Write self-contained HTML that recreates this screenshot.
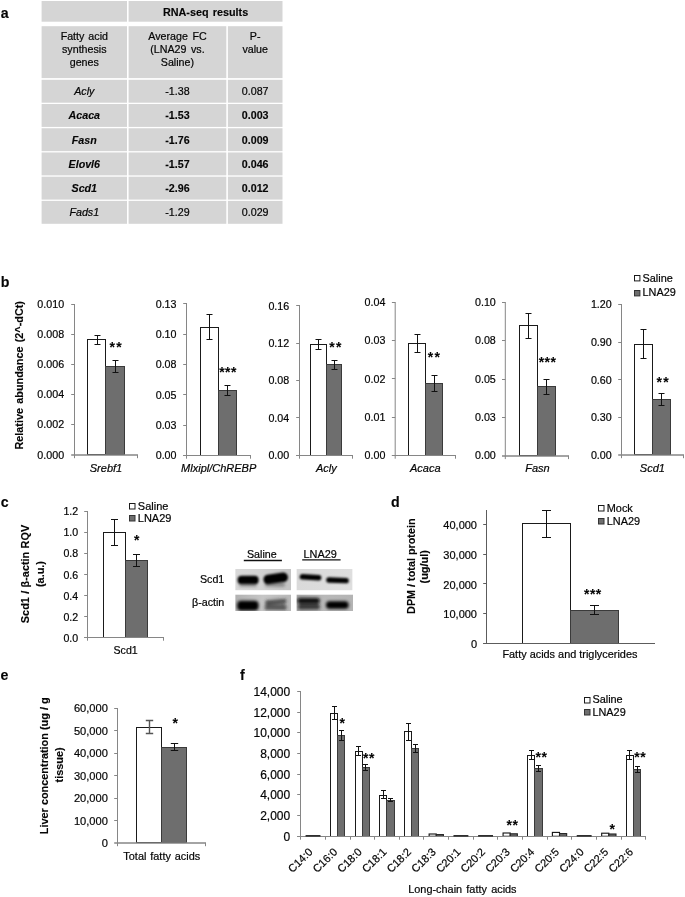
<!DOCTYPE html>
<html lang="en">
<head>
<meta charset="utf-8">
<title>Figure</title>
<style>html,body{margin:0;padding:0;background:#fff;overflow:hidden}svg{display:block}</style>
</head>
<body>
<svg width="685" height="897" viewBox="0 0 685 897" font-family="'Liberation Sans', Arial, Helvetica, sans-serif" fill="#050505">
<defs><filter id="b1" x="-20%" y="-60%" width="140%" height="220%"><feGaussianBlur stdDeviation="1.1"/></filter><filter id="b2" x="-20%" y="-60%" width="140%" height="220%"><feGaussianBlur stdDeviation="1.7"/></filter></defs>
<rect x="0" y="0" width="685" height="897" fill="#fff"/>
<text x="0.8" y="17.6" font-size="14.2" font-weight="bold" stroke="#050505" stroke-width="0.12">a</text>
<text x="0.8" y="286.6" font-size="14.2" font-weight="bold" stroke="#050505" stroke-width="0.12">b</text>
<text x="0.8" y="506.8" font-size="14.2" font-weight="bold" stroke="#050505" stroke-width="0.12">c</text>
<text x="391" y="506.8" font-size="14.2" font-weight="bold" stroke="#050505" stroke-width="0.12">d</text>
<text x="0.6" y="679.9" font-size="14.2" font-weight="bold" stroke="#050505" stroke-width="0.12">e</text>
<text x="240" y="680" font-size="14.2" font-weight="bold" stroke="#050505" stroke-width="0.12">f</text>
<rect x="41.6" y="1" width="85.4" height="20.7" fill="#d5d5d5"/>
<rect x="128.6" y="1" width="153.9" height="20.7" fill="#d5d5d5"/>
<text x="205.55" y="16.4" font-size="10.8" word-spacing="1.2" text-anchor="middle" font-weight="bold" stroke="#050505" stroke-width="0.12">RNA-seq results</text>
<rect x="41.6" y="26.2" width="85.4" height="51.9" fill="#d5d5d5"/>
<rect x="128.6" y="26.2" width="97.7" height="51.9" fill="#d5d5d5"/>
<rect x="227.9" y="26.2" width="54.6" height="51.9" fill="#d5d5d5"/>
<text x="84.3" y="39.6" font-size="10.7" word-spacing="1" text-anchor="middle" stroke="#050505" stroke-width="0.2">Fatty acid</text>
<text x="84.3" y="52.9" font-size="10.7" word-spacing="1" text-anchor="middle" stroke="#050505" stroke-width="0.2">synthesis</text>
<text x="84.3" y="66.2" font-size="10.7" word-spacing="1" text-anchor="middle" stroke="#050505" stroke-width="0.2">genes</text>
<text x="177.45" y="39.6" font-size="10.7" word-spacing="1.6" text-anchor="middle" stroke="#050505" stroke-width="0.2">Average FC</text>
<text x="177.45" y="52.9" font-size="10.7" word-spacing="1.6" text-anchor="middle" stroke="#050505" stroke-width="0.2">(LNA29 vs.</text>
<text x="177.45" y="66.2" font-size="10.7" word-spacing="1.6" text-anchor="middle" stroke="#050505" stroke-width="0.2">Saline)</text>
<text x="255.2" y="39.6" font-size="10.7" text-anchor="middle" stroke="#050505" stroke-width="0.2">P-</text>
<text x="255.2" y="52.9" font-size="10.7" text-anchor="middle" stroke="#050505" stroke-width="0.2">value</text>
<rect x="41.6" y="79.8" width="85.4" height="22.9" fill="#d5d5d5"/>
<rect x="128.6" y="79.8" width="97.7" height="22.9" fill="#d5d5d5"/>
<rect x="227.9" y="79.8" width="54.6" height="22.9" fill="#d5d5d5"/>
<text x="84.3" y="95.1" font-size="10.7" text-anchor="middle" font-style="italic" stroke="#050505" stroke-width="0.2">Acly</text>
<text x="177.45" y="95.1" font-size="10.7" text-anchor="middle" stroke="#050505" stroke-width="0.2">-1.38</text>
<text x="255.2" y="95.1" font-size="10.7" text-anchor="middle" stroke="#050505" stroke-width="0.2">0.087</text>
<rect x="41.6" y="104.02" width="85.4" height="22.9" fill="#d5d5d5"/>
<rect x="128.6" y="104.02" width="97.7" height="22.9" fill="#d5d5d5"/>
<rect x="227.9" y="104.02" width="54.6" height="22.9" fill="#d5d5d5"/>
<text x="84.3" y="119.32" font-size="10.7" text-anchor="middle" font-weight="bold" font-style="italic" stroke="#050505" stroke-width="0.12">Acaca</text>
<text x="177.45" y="119.32" font-size="10.7" text-anchor="middle" font-weight="bold" stroke="#050505" stroke-width="0.12">-1.53</text>
<text x="255.2" y="119.32" font-size="10.7" text-anchor="middle" font-weight="bold" stroke="#050505" stroke-width="0.12">0.003</text>
<rect x="41.6" y="128.24" width="85.4" height="22.9" fill="#d5d5d5"/>
<rect x="128.6" y="128.24" width="97.7" height="22.9" fill="#d5d5d5"/>
<rect x="227.9" y="128.24" width="54.6" height="22.9" fill="#d5d5d5"/>
<text x="84.3" y="143.54" font-size="10.7" text-anchor="middle" font-weight="bold" font-style="italic" stroke="#050505" stroke-width="0.12">Fasn</text>
<text x="177.45" y="143.54" font-size="10.7" text-anchor="middle" font-weight="bold" stroke="#050505" stroke-width="0.12">-1.76</text>
<text x="255.2" y="143.54" font-size="10.7" text-anchor="middle" font-weight="bold" stroke="#050505" stroke-width="0.12">0.009</text>
<rect x="41.6" y="152.46" width="85.4" height="22.9" fill="#d5d5d5"/>
<rect x="128.6" y="152.46" width="97.7" height="22.9" fill="#d5d5d5"/>
<rect x="227.9" y="152.46" width="54.6" height="22.9" fill="#d5d5d5"/>
<text x="84.3" y="167.76" font-size="10.7" text-anchor="middle" font-weight="bold" font-style="italic" stroke="#050505" stroke-width="0.12">Elovl6</text>
<text x="177.45" y="167.76" font-size="10.7" text-anchor="middle" font-weight="bold" stroke="#050505" stroke-width="0.12">-1.57</text>
<text x="255.2" y="167.76" font-size="10.7" text-anchor="middle" font-weight="bold" stroke="#050505" stroke-width="0.12">0.046</text>
<rect x="41.6" y="176.68" width="85.4" height="22.9" fill="#d5d5d5"/>
<rect x="128.6" y="176.68" width="97.7" height="22.9" fill="#d5d5d5"/>
<rect x="227.9" y="176.68" width="54.6" height="22.9" fill="#d5d5d5"/>
<text x="84.3" y="191.98" font-size="10.7" text-anchor="middle" font-weight="bold" font-style="italic" stroke="#050505" stroke-width="0.12">Scd1</text>
<text x="177.45" y="191.98" font-size="10.7" text-anchor="middle" font-weight="bold" stroke="#050505" stroke-width="0.12">-2.96</text>
<text x="255.2" y="191.98" font-size="10.7" text-anchor="middle" font-weight="bold" stroke="#050505" stroke-width="0.12">0.012</text>
<rect x="41.6" y="200.9" width="85.4" height="22.9" fill="#d5d5d5"/>
<rect x="128.6" y="200.9" width="97.7" height="22.9" fill="#d5d5d5"/>
<rect x="227.9" y="200.9" width="54.6" height="22.9" fill="#d5d5d5"/>
<text x="84.3" y="216.2" font-size="10.7" text-anchor="middle" font-style="italic" stroke="#050505" stroke-width="0.2">Fads1</text>
<text x="177.45" y="216.2" font-size="10.7" text-anchor="middle" stroke="#050505" stroke-width="0.2">-1.29</text>
<text x="255.2" y="216.2" font-size="10.7" text-anchor="middle" stroke="#050505" stroke-width="0.2">0.029</text>
<text x="23.4" y="375.3" font-size="10.85" word-spacing="1.2" text-anchor="middle" font-weight="bold" transform="rotate(-90 23.4 375.3)" stroke="#050505" stroke-width="0.12">Relative abundance (2^-dCt)</text>
<rect x="87.5" y="339.5" width="18" height="115" fill="#fff" stroke="#1a1a1a" stroke-width="1"/>
<rect x="105.5" y="366.5" width="19" height="88" fill="#6e6e6e" stroke="#3a3a3a" stroke-width="1"/>
<line x1="74.5" y1="304" x2="74.5" y2="455.5" stroke="#868686" stroke-width="1"/>
<text x="64.1" y="458.56" font-size="10.7" text-anchor="end" stroke="#050505" stroke-width="0.2">0.000</text>
<line x1="71.2" y1="424.5" x2="74.5" y2="424.5" stroke="#868686" stroke-width="1"/>
<text x="64.1" y="428.44" font-size="10.7" text-anchor="end" stroke="#050505" stroke-width="0.2">0.002</text>
<line x1="71.2" y1="394.5" x2="74.5" y2="394.5" stroke="#868686" stroke-width="1"/>
<text x="64.1" y="398.32" font-size="10.7" text-anchor="end" stroke="#050505" stroke-width="0.2">0.004</text>
<line x1="71.2" y1="364.5" x2="74.5" y2="364.5" stroke="#868686" stroke-width="1"/>
<text x="64.1" y="368.2" font-size="10.7" text-anchor="end" stroke="#050505" stroke-width="0.2">0.006</text>
<line x1="71.2" y1="334.5" x2="74.5" y2="334.5" stroke="#868686" stroke-width="1"/>
<text x="64.1" y="338.08" font-size="10.7" text-anchor="end" stroke="#050505" stroke-width="0.2">0.008</text>
<line x1="71.2" y1="304.5" x2="74.5" y2="304.5" stroke="#868686" stroke-width="1"/>
<text x="64.1" y="307.96" font-size="10.7" text-anchor="end" stroke="#050505" stroke-width="0.2">0.010</text>
<line x1="71.2" y1="455" x2="138" y2="455" stroke="#868686" stroke-width="1.5"/>
<line x1="74.5" y1="455" x2="74.5" y2="458.2" stroke="#868686" stroke-width="1"/>
<line x1="137.5" y1="455" x2="137.5" y2="458.2" stroke="#868686" stroke-width="1"/>
<path d="M94.5 335.5H100.5M97.5 335.5V344.5M94.5 344.5H100.5" stroke="#111" stroke-width="1" fill="none"/>
<path d="M112.5 360.5H118.5M115.5 360.5V372.5M112.5 372.5H118.5" stroke="#111" stroke-width="1" fill="none"/>
<text x="109.48" y="352.2" font-size="14" font-weight="bold" stroke="#050505" stroke-width="0.06" letter-spacing="1.4">**</text>
<text x="106" y="471.6" font-size="11" text-anchor="middle" font-style="italic" stroke="#050505" stroke-width="0.2">Srebf1</text>
<rect x="200.5" y="327.5" width="18" height="128" fill="#fff" stroke="#1a1a1a" stroke-width="1"/>
<rect x="218.5" y="390.5" width="18" height="65" fill="#6e6e6e" stroke="#3a3a3a" stroke-width="1"/>
<line x1="186.5" y1="303" x2="186.5" y2="456" stroke="#868686" stroke-width="1"/>
<line x1="183.2" y1="455.5" x2="186.5" y2="455.5" stroke="#868686" stroke-width="1"/>
<text x="176.5" y="459.36" font-size="10.7" text-anchor="end" stroke="#050505" stroke-width="0.2">0.00</text>
<line x1="183.2" y1="425.5" x2="186.5" y2="425.5" stroke="#868686" stroke-width="1"/>
<text x="176.5" y="429.06" font-size="10.7" text-anchor="end" stroke="#050505" stroke-width="0.2">0.03</text>
<line x1="183.2" y1="394.5" x2="186.5" y2="394.5" stroke="#868686" stroke-width="1"/>
<text x="176.5" y="398.76" font-size="10.7" text-anchor="end" stroke="#050505" stroke-width="0.2">0.05</text>
<line x1="183.2" y1="364.5" x2="186.5" y2="364.5" stroke="#868686" stroke-width="1"/>
<text x="176.5" y="368.46" font-size="10.7" text-anchor="end" stroke="#050505" stroke-width="0.2">0.08</text>
<line x1="183.2" y1="334.5" x2="186.5" y2="334.5" stroke="#868686" stroke-width="1"/>
<text x="176.5" y="338.16" font-size="10.7" text-anchor="end" stroke="#050505" stroke-width="0.2">0.10</text>
<line x1="183.2" y1="303.5" x2="186.5" y2="303.5" stroke="#868686" stroke-width="1"/>
<text x="176.5" y="307.86" font-size="10.7" text-anchor="end" stroke="#050505" stroke-width="0.2">0.13</text>
<line x1="183.2" y1="455.5" x2="251" y2="455.5" stroke="#868686" stroke-width="1"/>
<line x1="186.5" y1="455.5" x2="186.5" y2="458.7" stroke="#868686" stroke-width="1"/>
<line x1="250.5" y1="455.5" x2="250.5" y2="458.7" stroke="#868686" stroke-width="1"/>
<path d="M206.5 314.5H212.5M209.5 314.5V339.5M206.5 339.5H212.5" stroke="#111" stroke-width="1" fill="none"/>
<path d="M224.5 385.5H230.5M227.5 385.5V395.5M224.5 395.5H230.5" stroke="#111" stroke-width="1" fill="none"/>
<text x="219.2" y="376.5" font-size="14" font-weight="bold" stroke="#050505" stroke-width="0.06" letter-spacing="0.45">***</text>
<text x="218.7" y="471.6" font-size="11" text-anchor="middle" font-style="italic" stroke="#050505" stroke-width="0.2">Mlxipl/ChREBP</text>
<rect x="310.5" y="344.5" width="16" height="111" fill="#fff" stroke="#1a1a1a" stroke-width="1"/>
<rect x="326.5" y="364.5" width="15" height="91" fill="#6e6e6e" stroke="#3a3a3a" stroke-width="1"/>
<line x1="299.5" y1="305" x2="299.5" y2="456" stroke="#868686" stroke-width="1"/>
<line x1="296.2" y1="455.5" x2="299.5" y2="455.5" stroke="#868686" stroke-width="1"/>
<text x="289.2" y="458.96" font-size="10.7" text-anchor="end" stroke="#050505" stroke-width="0.2">0.00</text>
<line x1="296.2" y1="417.5" x2="299.5" y2="417.5" stroke="#868686" stroke-width="1"/>
<text x="289.2" y="421.68" font-size="10.7" text-anchor="end" stroke="#050505" stroke-width="0.2">0.04</text>
<line x1="296.2" y1="380.5" x2="299.5" y2="380.5" stroke="#868686" stroke-width="1"/>
<text x="289.2" y="384.41" font-size="10.7" text-anchor="end" stroke="#050505" stroke-width="0.2">0.08</text>
<line x1="296.2" y1="343.5" x2="299.5" y2="343.5" stroke="#868686" stroke-width="1"/>
<text x="289.2" y="347.13" font-size="10.7" text-anchor="end" stroke="#050505" stroke-width="0.2">0.12</text>
<line x1="296.2" y1="305.5" x2="299.5" y2="305.5" stroke="#868686" stroke-width="1"/>
<text x="289.2" y="309.86" font-size="10.7" text-anchor="end" stroke="#050505" stroke-width="0.2">0.16</text>
<line x1="296.2" y1="455.5" x2="353" y2="455.5" stroke="#868686" stroke-width="1"/>
<line x1="299.5" y1="455.5" x2="299.5" y2="458.7" stroke="#868686" stroke-width="1"/>
<line x1="352.5" y1="455.5" x2="352.5" y2="458.7" stroke="#868686" stroke-width="1"/>
<path d="M315.5 339.5H321.5M318.5 339.5V349.5M315.5 349.5H321.5" stroke="#111" stroke-width="1" fill="none"/>
<path d="M331.5 360.5H337.5M334.5 360.5V369.5M331.5 369.5H337.5" stroke="#111" stroke-width="1" fill="none"/>
<text x="329.18" y="352.1" font-size="14" font-weight="bold" stroke="#050505" stroke-width="0.06" letter-spacing="1.4">**</text>
<text x="326.3" y="471.6" font-size="11" text-anchor="middle" font-style="italic" stroke="#050505" stroke-width="0.2">Acly</text>
<rect x="408.5" y="343.5" width="17" height="112" fill="#fff" stroke="#1a1a1a" stroke-width="1"/>
<rect x="425.5" y="383.5" width="17" height="72" fill="#6e6e6e" stroke="#3a3a3a" stroke-width="1"/>
<line x1="395.2" y1="302" x2="395.2" y2="456" stroke="#868686" stroke-width="1"/>
<line x1="391.9" y1="455.5" x2="395.2" y2="455.5" stroke="#868686" stroke-width="1"/>
<text x="385.4" y="459.26" font-size="10.7" text-anchor="end" stroke="#050505" stroke-width="0.2">0.00</text>
<line x1="391.9" y1="417.5" x2="395.2" y2="417.5" stroke="#868686" stroke-width="1"/>
<text x="385.4" y="420.98" font-size="10.7" text-anchor="end" stroke="#050505" stroke-width="0.2">0.01</text>
<line x1="391.9" y1="378.5" x2="395.2" y2="378.5" stroke="#868686" stroke-width="1"/>
<text x="385.4" y="382.71" font-size="10.7" text-anchor="end" stroke="#050505" stroke-width="0.2">0.02</text>
<line x1="391.9" y1="340.5" x2="395.2" y2="340.5" stroke="#868686" stroke-width="1"/>
<text x="385.4" y="344.43" font-size="10.7" text-anchor="end" stroke="#050505" stroke-width="0.2">0.03</text>
<line x1="391.9" y1="302.5" x2="395.2" y2="302.5" stroke="#868686" stroke-width="1"/>
<text x="385.4" y="306.16" font-size="10.7" text-anchor="end" stroke="#050505" stroke-width="0.2">0.04</text>
<line x1="391.9" y1="455.5" x2="456" y2="455.5" stroke="#868686" stroke-width="1"/>
<line x1="395.2" y1="455.5" x2="395.2" y2="458.7" stroke="#868686" stroke-width="1"/>
<line x1="455.5" y1="455.5" x2="455.5" y2="458.7" stroke="#868686" stroke-width="1"/>
<path d="M414.5 334.5H420.5M417.5 334.5V352.5M414.5 352.5H420.5" stroke="#111" stroke-width="1" fill="none"/>
<path d="M431.5 375.5H437.5M434.5 375.5V391.5M431.5 391.5H437.5" stroke="#111" stroke-width="1" fill="none"/>
<text x="427.68" y="361.7" font-size="14" font-weight="bold" stroke="#050505" stroke-width="0.06" letter-spacing="1.4">**</text>
<text x="425.3" y="471.6" font-size="11" text-anchor="middle" font-style="italic" stroke="#050505" stroke-width="0.2">Acaca</text>
<rect x="519.5" y="325.5" width="18" height="130" fill="#fff" stroke="#1a1a1a" stroke-width="1"/>
<rect x="537.5" y="386.5" width="18" height="69" fill="#6e6e6e" stroke="#3a3a3a" stroke-width="1"/>
<line x1="505.3" y1="302" x2="505.3" y2="456.4" stroke="#868686" stroke-width="1"/>
<text x="495.8" y="459.46" font-size="10.7" text-anchor="end" stroke="#050505" stroke-width="0.2">0.00</text>
<line x1="502" y1="417.5" x2="505.3" y2="417.5" stroke="#868686" stroke-width="1"/>
<text x="495.8" y="421.03" font-size="10.7" text-anchor="end" stroke="#050505" stroke-width="0.2">0.03</text>
<line x1="502" y1="379.5" x2="505.3" y2="379.5" stroke="#868686" stroke-width="1"/>
<text x="495.8" y="382.61" font-size="10.7" text-anchor="end" stroke="#050505" stroke-width="0.2">0.05</text>
<line x1="502" y1="340.5" x2="505.3" y2="340.5" stroke="#868686" stroke-width="1"/>
<text x="495.8" y="344.18" font-size="10.7" text-anchor="end" stroke="#050505" stroke-width="0.2">0.08</text>
<line x1="502" y1="302.5" x2="505.3" y2="302.5" stroke="#868686" stroke-width="1"/>
<text x="495.8" y="305.76" font-size="10.7" text-anchor="end" stroke="#050505" stroke-width="0.2">0.10</text>
<line x1="502" y1="455.9" x2="569" y2="455.9" stroke="#868686" stroke-width="1.5"/>
<line x1="505.3" y1="455.9" x2="505.3" y2="459.1" stroke="#868686" stroke-width="1"/>
<line x1="568.5" y1="455.9" x2="568.5" y2="459.1" stroke="#868686" stroke-width="1"/>
<path d="M525.5 313.5H531.5M528.5 313.5V338.5M525.5 338.5H531.5" stroke="#111" stroke-width="1" fill="none"/>
<path d="M543.5 379.5H549.5M546.5 379.5V394.5M543.5 394.5H549.5" stroke="#111" stroke-width="1" fill="none"/>
<text x="538.71" y="367.1" font-size="14" font-weight="bold" stroke="#050505" stroke-width="0.06" letter-spacing="0.45">***</text>
<text x="537.5" y="471.6" font-size="11" text-anchor="middle" font-style="italic" stroke="#050505" stroke-width="0.2">Fasn</text>
<rect x="634.5" y="344.5" width="18" height="110" fill="#fff" stroke="#1a1a1a" stroke-width="1"/>
<rect x="652.5" y="399.5" width="18" height="55" fill="#6e6e6e" stroke="#3a3a3a" stroke-width="1"/>
<line x1="621.5" y1="304" x2="621.5" y2="455.5" stroke="#868686" stroke-width="1"/>
<text x="611.7" y="458.56" font-size="10.7" text-anchor="end" stroke="#050505" stroke-width="0.2">0.00</text>
<line x1="618.2" y1="417.5" x2="621.5" y2="417.5" stroke="#868686" stroke-width="1"/>
<text x="611.7" y="421.03" font-size="10.7" text-anchor="end" stroke="#050505" stroke-width="0.2">0.30</text>
<line x1="618.2" y1="379.5" x2="621.5" y2="379.5" stroke="#868686" stroke-width="1"/>
<text x="611.7" y="383.51" font-size="10.7" text-anchor="end" stroke="#050505" stroke-width="0.2">0.60</text>
<line x1="618.2" y1="342.5" x2="621.5" y2="342.5" stroke="#868686" stroke-width="1"/>
<text x="611.7" y="345.98" font-size="10.7" text-anchor="end" stroke="#050505" stroke-width="0.2">0.90</text>
<line x1="618.2" y1="304.5" x2="621.5" y2="304.5" stroke="#868686" stroke-width="1"/>
<text x="611.7" y="308.46" font-size="10.7" text-anchor="end" stroke="#050505" stroke-width="0.2">1.20</text>
<line x1="618.2" y1="455" x2="684" y2="455" stroke="#868686" stroke-width="1.5"/>
<line x1="621.5" y1="455" x2="621.5" y2="458.2" stroke="#868686" stroke-width="1"/>
<line x1="683.5" y1="455" x2="683.5" y2="458.2" stroke="#868686" stroke-width="1"/>
<path d="M640.5 329.5H646.5M643.5 329.5V358.5M640.5 358.5H646.5" stroke="#111" stroke-width="1" fill="none"/>
<path d="M658.5 393.5H664.5M661.5 393.5V405.5M658.5 405.5H664.5" stroke="#111" stroke-width="1" fill="none"/>
<text x="656.38" y="386.7" font-size="14" font-weight="bold" stroke="#050505" stroke-width="0.06" letter-spacing="1.4">**</text>
<text x="652.4" y="471.6" font-size="11" text-anchor="middle" font-style="italic" stroke="#050505" stroke-width="0.2">Scd1</text>
<rect x="634.5" y="275.5" width="5.4" height="5.4" fill="#fff" stroke="#1a1a1a" stroke-width="1"/>
<rect x="634.5" y="290.5" width="5.4" height="5.4" fill="#6e6e6e" stroke="#333" stroke-width="1"/>
<text x="642.5" y="281.92" font-size="10.9" stroke="#050505" stroke-width="0.2">Saline</text>
<text x="642.5" y="296.12" font-size="10.9" stroke="#050505" stroke-width="0.2">LNA29</text>
<text x="29.4" y="574" font-size="10.9" word-spacing="0.3" text-anchor="middle" font-weight="bold" transform="rotate(-90 29.4 574)" stroke="#050505" stroke-width="0.12">Scd1 / β-actin RQV</text>
<text x="43.6" y="574" font-size="10.9" text-anchor="middle" font-weight="bold" transform="rotate(-90 43.6 574)" stroke="#050505" stroke-width="0.12">(a.u.)</text>
<rect x="103.5" y="532.5" width="22" height="105" fill="#fff" stroke="#1a1a1a" stroke-width="1"/>
<rect x="125.5" y="560.5" width="22" height="77" fill="#6e6e6e" stroke="#3a3a3a" stroke-width="1"/>
<line x1="87.5" y1="511" x2="87.5" y2="638" stroke="#868686" stroke-width="1"/>
<line x1="84.2" y1="637.5" x2="87.5" y2="637.5" stroke="#868686" stroke-width="1"/>
<text x="78.2" y="641.72" font-size="10.6" text-anchor="end" stroke="#050505" stroke-width="0.2">0.0</text>
<line x1="84.2" y1="616.5" x2="87.5" y2="616.5" stroke="#868686" stroke-width="1"/>
<text x="78.2" y="620.66" font-size="10.6" text-anchor="end" stroke="#050505" stroke-width="0.2">0.2</text>
<line x1="84.2" y1="595.5" x2="87.5" y2="595.5" stroke="#868686" stroke-width="1"/>
<text x="78.2" y="599.59" font-size="10.6" text-anchor="end" stroke="#050505" stroke-width="0.2">0.4</text>
<line x1="84.2" y1="574.5" x2="87.5" y2="574.5" stroke="#868686" stroke-width="1"/>
<text x="78.2" y="578.52" font-size="10.6" text-anchor="end" stroke="#050505" stroke-width="0.2">0.6</text>
<line x1="84.2" y1="553.5" x2="87.5" y2="553.5" stroke="#868686" stroke-width="1"/>
<text x="78.2" y="557.46" font-size="10.6" text-anchor="end" stroke="#050505" stroke-width="0.2">0.8</text>
<line x1="84.2" y1="532.5" x2="87.5" y2="532.5" stroke="#868686" stroke-width="1"/>
<text x="78.2" y="536.39" font-size="10.6" text-anchor="end" stroke="#050505" stroke-width="0.2">1.0</text>
<line x1="84.2" y1="511.5" x2="87.5" y2="511.5" stroke="#868686" stroke-width="1"/>
<text x="78.2" y="515.32" font-size="10.6" text-anchor="end" stroke="#050505" stroke-width="0.2">1.2</text>
<line x1="84.2" y1="637.5" x2="164" y2="637.5" stroke="#868686" stroke-width="1"/>
<line x1="87.5" y1="637.5" x2="87.5" y2="640.7" stroke="#868686" stroke-width="1"/>
<line x1="163.5" y1="637.5" x2="163.5" y2="640.7" stroke="#868686" stroke-width="1"/>
<path d="M111 519.5H118M114.5 519.5V545.5M111 545.5H118" stroke="#111" stroke-width="1" fill="none"/>
<path d="M133 554.5H140M136.5 554.5V566.5M133 566.5H140" stroke="#111" stroke-width="1" fill="none"/>
<text x="134" y="545.2" font-size="14" font-weight="bold" stroke="#050505" stroke-width="0.06">*</text>
<text x="125.6" y="654.2" font-size="10.6" text-anchor="middle" stroke="#050505" stroke-width="0.2">Scd1</text>
<rect x="129.5" y="503.5" width="5.5" height="5.5" fill="#fff" stroke="#1a1a1a" stroke-width="1"/>
<rect x="129.5" y="515.5" width="5.5" height="5.5" fill="#6e6e6e" stroke="#333" stroke-width="1"/>
<text x="137.8" y="509.96" font-size="11" stroke="#050505" stroke-width="0.2">Saline</text>
<text x="137.8" y="521.96" font-size="11" stroke="#050505" stroke-width="0.2">LNA29</text>
<text x="261.8" y="558.3" font-size="10.7" text-anchor="middle" stroke="#050505" stroke-width="0.2">Saline</text>
<text x="320.2" y="558.2" font-size="10.9" text-anchor="middle" stroke="#050505" stroke-width="0.2">LNA29</text>
<line x1="243.8" y1="560.5" x2="281.9" y2="560.5" stroke="#111" stroke-width="1.3"/>
<line x1="302.2" y1="559.9" x2="340.6" y2="559.9" stroke="#111" stroke-width="1.3"/>
<text x="224.3" y="582.5" font-size="10.7" text-anchor="end" stroke="#050505" stroke-width="0.2">Scd1</text>
<text x="224.3" y="606" font-size="10.7" text-anchor="end" stroke="#050505" stroke-width="0.2">β-actin</text>
<defs><linearGradient id="g1" x1="0" x2="1" y1="0" y2="0"><stop offset="0" stop-color="#d9d9d9"/><stop offset="0.45" stop-color="#d3d3d3"/><stop offset="1" stop-color="#c4c4c4"/></linearGradient><linearGradient id="g2" x1="0" x2="1" y1="0" y2="0"><stop offset="0" stop-color="#dadada"/><stop offset="1" stop-color="#dedede"/></linearGradient><linearGradient id="g3" x1="0" x2="1" y1="0" y2="0"><stop offset="0" stop-color="#b2b2b2"/><stop offset="0.5" stop-color="#c6c6c6"/><stop offset="1" stop-color="#b8b8b8"/></linearGradient><linearGradient id="g4" x1="0" x2="1" y1="0" y2="0"><stop offset="0" stop-color="#a8a8a8"/><stop offset="0.5" stop-color="#b8b8b8"/><stop offset="1" stop-color="#b4b4b4"/></linearGradient><clipPath id="k1"><rect x="235.2" y="568.9" width="55.8" height="21.5"/></clipPath><clipPath id="k2"><rect x="296.4" y="568.9" width="56.2" height="21.5"/></clipPath><clipPath id="k3"><rect x="235.2" y="594.4" width="55.8" height="16.6"/></clipPath><clipPath id="k4"><rect x="296.4" y="594.4" width="56.6" height="16.6"/></clipPath></defs>
<g clip-path="url(#k1)"><rect x="235.2" y="568.9" width="55.8" height="21.5" fill="url(#g1)"/><g filter="url(#b1)"><rect x="237.6" y="575.8" width="21" height="8.4" rx="4" fill="#030303"/><rect x="263.4" y="573.6" width="24.6" height="9.6" rx="4.6" fill="#030303" transform="rotate(-8 276 578.4)"/></g><g filter="url(#b2)" opacity="0.35"><rect x="265" y="582" width="20" height="5" rx="2.5" fill="#222"/><rect x="239" y="583" width="18" height="4" rx="2" fill="#222"/></g></g>
<g clip-path="url(#k2)"><rect x="296.4" y="568.9" width="56.2" height="21.5" fill="url(#g2)"/><g filter="url(#b1)"><rect x="299.6" y="574.6" width="21.8" height="5.4" rx="2.7" fill="#060606" transform="rotate(3.5 310.5 577.3)"/><rect x="326.2" y="577.6" width="22.6" height="5.4" rx="2.7" fill="#060606" transform="rotate(2 337.5 580.3)"/></g></g>
<g clip-path="url(#k3)"><rect x="235.2" y="594.4" width="55.8" height="16.6" fill="url(#g3)"/><g filter="url(#b2)"><rect x="237.2" y="600.8" width="21.4" height="9.6" rx="4" fill="#050505"/><rect x="265" y="599.6" width="21.6" height="4.6" rx="2.3" fill="#2a2a2a" opacity="0.75" transform="rotate(-5 276 602)"/><rect x="264.6" y="604.6" width="22" height="5.4" rx="2.6" fill="#2a2a2a" opacity="0.7"/></g></g>
<g clip-path="url(#k4)"><rect x="296.4" y="594.4" width="56.6" height="16.6" fill="url(#g4)"/><g filter="url(#b2)"><rect x="297.4" y="598.0" width="22.4" height="5.6" rx="2.8" fill="#080808"/><rect x="298" y="604.0" width="22" height="5.6" rx="2.8" fill="#1a1a1a" opacity="0.8"/><rect x="326" y="601.2" width="22.6" height="7.6" rx="3.6" fill="#060606"/></g></g>
<text x="414.8" y="566.2" font-size="10.8" text-anchor="middle" font-weight="bold" transform="rotate(-90 414.8 566.2)" stroke="#050505" stroke-width="0.12">DPM / total protein</text>
<text x="428.4" y="566.8" font-size="10.9" text-anchor="middle" font-weight="bold" transform="rotate(-90 428.4 566.8)" stroke="#050505" stroke-width="0.12">(ug/ul)</text>
<rect x="522.5" y="523.5" width="48" height="120" fill="#fff" stroke="#1a1a1a" stroke-width="1"/>
<rect x="570.5" y="610.5" width="48" height="33" fill="#6e6e6e" stroke="#3a3a3a" stroke-width="1"/>
<line x1="486.5" y1="510" x2="486.5" y2="644" stroke="#5c5c5c" stroke-width="1"/>
<line x1="483.2" y1="643.5" x2="486.5" y2="643.5" stroke="#5c5c5c" stroke-width="1"/>
<text x="477" y="648.17" font-size="11" text-anchor="end" stroke="#050505" stroke-width="0.2">0</text>
<line x1="483.2" y1="613.5" x2="486.5" y2="613.5" stroke="#5c5c5c" stroke-width="1"/>
<text x="477" y="618.44" font-size="11" text-anchor="end" stroke="#050505" stroke-width="0.2">10,000</text>
<line x1="483.2" y1="583.5" x2="486.5" y2="583.5" stroke="#5c5c5c" stroke-width="1"/>
<text x="477" y="588.72" font-size="11" text-anchor="end" stroke="#050505" stroke-width="0.2">20,000</text>
<line x1="483.2" y1="554.5" x2="486.5" y2="554.5" stroke="#5c5c5c" stroke-width="1"/>
<text x="477" y="559" font-size="11" text-anchor="end" stroke="#050505" stroke-width="0.2">30,000</text>
<line x1="483.2" y1="524.5" x2="486.5" y2="524.5" stroke="#5c5c5c" stroke-width="1"/>
<text x="477" y="529.27" font-size="11" text-anchor="end" stroke="#050505" stroke-width="0.2">40,000</text>
<line x1="483.2" y1="643.5" x2="655" y2="643.5" stroke="#5c5c5c" stroke-width="1"/>
<path d="M542 510.5H551M546.5 510.5V537.5M542 537.5H551" stroke="#111" stroke-width="1" fill="none"/>
<path d="M590 605.5H599M594.5 605.5V614.5M590 614.5H599" stroke="#111" stroke-width="1" fill="none"/>
<text x="584" y="599.2" font-size="14" font-weight="bold" stroke="#050505" stroke-width="0.06" letter-spacing="0.45">***</text>
<text x="569.9" y="657.5" font-size="10.9" text-anchor="middle" stroke="#050505" stroke-width="0.2">Fatty acids and triglycerides</text>
<rect x="598.5" y="505.5" width="5.5" height="5.5" fill="#fff" stroke="#1a1a1a" stroke-width="1"/>
<rect x="598.5" y="518.5" width="5.5" height="5.5" fill="#6e6e6e" stroke="#333" stroke-width="1"/>
<text x="606.8" y="511.62" font-size="10.9" stroke="#050505" stroke-width="0.2">Mock</text>
<text x="606.8" y="524.72" font-size="10.9" stroke="#050505" stroke-width="0.2">LNA29</text>
<text x="48.4" y="765.8" font-size="10.9" text-anchor="middle" font-weight="bold" transform="rotate(-90 48.4 765.8)" stroke="#050505" stroke-width="0.12">Liver concentration (ug / g</text>
<text x="63.4" y="764.9" font-size="10.9" text-anchor="middle" font-weight="bold" transform="rotate(-90 63.4 764.9)" stroke="#050505" stroke-width="0.12">tissue)</text>
<rect x="136.5" y="727.5" width="25" height="115" fill="#fff" stroke="#1a1a1a" stroke-width="1"/>
<rect x="161.5" y="747.5" width="25" height="95" fill="#6e6e6e" stroke="#3a3a3a" stroke-width="1"/>
<line x1="117.5" y1="708" x2="117.5" y2="843.5" stroke="#868686" stroke-width="1"/>
<text x="107.9" y="847.01" font-size="11.1" text-anchor="end" stroke="#050505" stroke-width="0.2">0</text>
<line x1="114.2" y1="820.5" x2="117.5" y2="820.5" stroke="#868686" stroke-width="1"/>
<text x="107.9" y="824.56" font-size="11.1" text-anchor="end" stroke="#050505" stroke-width="0.2">10,000</text>
<line x1="114.2" y1="798.5" x2="117.5" y2="798.5" stroke="#868686" stroke-width="1"/>
<text x="107.9" y="802.11" font-size="11.1" text-anchor="end" stroke="#050505" stroke-width="0.2">20,000</text>
<line x1="114.2" y1="775.5" x2="117.5" y2="775.5" stroke="#868686" stroke-width="1"/>
<text x="107.9" y="779.66" font-size="11.1" text-anchor="end" stroke="#050505" stroke-width="0.2">30,000</text>
<line x1="114.2" y1="753.5" x2="117.5" y2="753.5" stroke="#868686" stroke-width="1"/>
<text x="107.9" y="757.21" font-size="11.1" text-anchor="end" stroke="#050505" stroke-width="0.2">40,000</text>
<line x1="114.2" y1="730.5" x2="117.5" y2="730.5" stroke="#868686" stroke-width="1"/>
<text x="107.9" y="734.76" font-size="11.1" text-anchor="end" stroke="#050505" stroke-width="0.2">50,000</text>
<line x1="114.2" y1="708.5" x2="117.5" y2="708.5" stroke="#868686" stroke-width="1"/>
<text x="107.9" y="712.31" font-size="11.1" text-anchor="end" stroke="#050505" stroke-width="0.2">60,000</text>
<line x1="114.2" y1="843" x2="206" y2="843" stroke="#868686" stroke-width="1.5"/>
<line x1="117.5" y1="843" x2="117.5" y2="846.2" stroke="#868686" stroke-width="1"/>
<line x1="205.5" y1="843" x2="205.5" y2="846.2" stroke="#868686" stroke-width="1"/>
<path d="M145.8 720.5H153.2M149.5 720.5V733.5M145.8 733.5H153.2" stroke="#555" stroke-width="1.4" fill="none"/>
<path d="M170.8 743.5H178.2M174.5 743.5V750.5M170.8 750.5H178.2" stroke="#111" stroke-width="1" fill="none"/>
<text x="172.4" y="727.6" font-size="14" font-weight="bold" stroke="#050505" stroke-width="0.06">*</text>
<text x="161.8" y="859.5" font-size="10.9" word-spacing="0.9" text-anchor="middle" stroke="#050505" stroke-width="0.2">Total fatty acids</text>
<text x="313.32" y="852.6" font-size="11" text-anchor="end" transform="rotate(-45 313.32 852.6)" stroke="#050505" stroke-width="0.2">C14:0</text>
<rect x="330.5" y="713.5" width="7" height="123" fill="#fff" stroke="#1a1a1a" stroke-width="1"/>
<rect x="337.5" y="735.5" width="7" height="101" fill="#6e6e6e" stroke="#3a3a3a" stroke-width="1"/>
<path d="M332 706.5H337M334.5 706.5V719.5M332 719.5H337" stroke="#111" stroke-width="1" fill="none"/>
<path d="M339 730.5H344M341.5 730.5V740.5M339 740.5H344" stroke="#111" stroke-width="1" fill="none"/>
<text x="337.97" y="852.6" font-size="11" text-anchor="end" transform="rotate(-45 337.97 852.6)" stroke="#050505" stroke-width="0.2">C16:0</text>
<rect x="355.5" y="751.5" width="7" height="85" fill="#fff" stroke="#1a1a1a" stroke-width="1"/>
<rect x="362.5" y="767.5" width="7" height="69" fill="#6e6e6e" stroke="#3a3a3a" stroke-width="1"/>
<path d="M356 746.5H361M358.5 746.5V755.5M356 755.5H361" stroke="#111" stroke-width="1" fill="none"/>
<path d="M363 764.5H368M365.5 764.5V770.5M363 770.5H368" stroke="#111" stroke-width="1" fill="none"/>
<text x="362.62" y="852.6" font-size="11" text-anchor="end" transform="rotate(-45 362.62 852.6)" stroke="#050505" stroke-width="0.2">C18:0</text>
<rect x="379.5" y="795.5" width="7" height="41" fill="#fff" stroke="#1a1a1a" stroke-width="1"/>
<rect x="386.5" y="800.5" width="8" height="36" fill="#6e6e6e" stroke="#3a3a3a" stroke-width="1"/>
<path d="M381 790.5H386M383.5 790.5V798.5M381 798.5H386" stroke="#111" stroke-width="1" fill="none"/>
<path d="M388 798.5H393M390.5 798.5V801.5M388 801.5H393" stroke="#111" stroke-width="1" fill="none"/>
<text x="387.27" y="852.6" font-size="11" text-anchor="end" transform="rotate(-45 387.27 852.6)" stroke="#050505" stroke-width="0.2">C18:1</text>
<rect x="404.5" y="731.5" width="7" height="105" fill="#fff" stroke="#1a1a1a" stroke-width="1"/>
<rect x="411.5" y="748.5" width="7" height="88" fill="#6e6e6e" stroke="#3a3a3a" stroke-width="1"/>
<path d="M406 723.5H411M408.5 723.5V740.5M406 740.5H411" stroke="#111" stroke-width="1" fill="none"/>
<path d="M413 744.5H418M415.5 744.5V752.5M413 752.5H418" stroke="#111" stroke-width="1" fill="none"/>
<text x="411.93" y="852.6" font-size="11" text-anchor="end" transform="rotate(-45 411.93 852.6)" stroke="#050505" stroke-width="0.2">C18:2</text>
<rect x="429.12" y="834" width="7.15" height="2.3" fill="#fff" stroke="#111" stroke-width="1.1"/>
<rect x="436.27" y="834.6" width="7.15" height="1.7" fill="#6e6e6e" stroke="#222" stroke-width="1.1"/>
<text x="436.57" y="852.6" font-size="11" text-anchor="end" transform="rotate(-45 436.57 852.6)" stroke="#050505" stroke-width="0.2">C18:3</text>
<text x="461.22" y="852.6" font-size="11" text-anchor="end" transform="rotate(-45 461.22 852.6)" stroke="#050505" stroke-width="0.2">C20:1</text>
<text x="485.88" y="852.6" font-size="11" text-anchor="end" transform="rotate(-45 485.88 852.6)" stroke="#050505" stroke-width="0.2">C20:2</text>
<rect x="503.07" y="833" width="7.15" height="3.3" fill="#fff" stroke="#111" stroke-width="1.1"/>
<rect x="510.22" y="833.8" width="7.15" height="2.5" fill="#6e6e6e" stroke="#222" stroke-width="1.1"/>
<text x="510.52" y="852.6" font-size="11" text-anchor="end" transform="rotate(-45 510.52 852.6)" stroke="#050505" stroke-width="0.2">C20:3</text>
<rect x="527.5" y="755.5" width="7" height="81" fill="#fff" stroke="#1a1a1a" stroke-width="1"/>
<rect x="534.5" y="768.5" width="8" height="68" fill="#6e6e6e" stroke="#3a3a3a" stroke-width="1"/>
<path d="M529 750.5H534M531.5 750.5V759.5M529 759.5H534" stroke="#111" stroke-width="1" fill="none"/>
<path d="M536 765.5H541M538.5 765.5V771.5M536 771.5H541" stroke="#111" stroke-width="1" fill="none"/>
<text x="535.17" y="852.6" font-size="11" text-anchor="end" transform="rotate(-45 535.17 852.6)" stroke="#050505" stroke-width="0.2">C20:4</text>
<rect x="552.38" y="832.4" width="7.15" height="3.9" fill="#fff" stroke="#111" stroke-width="1.1"/>
<rect x="559.52" y="833.6" width="7.15" height="2.7" fill="#6e6e6e" stroke="#222" stroke-width="1.1"/>
<text x="559.82" y="852.6" font-size="11" text-anchor="end" transform="rotate(-45 559.82 852.6)" stroke="#050505" stroke-width="0.2">C20:5</text>
<text x="584.47" y="852.6" font-size="11" text-anchor="end" transform="rotate(-45 584.47 852.6)" stroke="#050505" stroke-width="0.2">C24:0</text>
<rect x="601.68" y="833.2" width="7.15" height="3.1" fill="#fff" stroke="#111" stroke-width="1.1"/>
<rect x="608.83" y="834" width="7.15" height="2.3" fill="#6e6e6e" stroke="#222" stroke-width="1.1"/>
<text x="609.12" y="852.6" font-size="11" text-anchor="end" transform="rotate(-45 609.12 852.6)" stroke="#050505" stroke-width="0.2">C22:5</text>
<rect x="626.5" y="755.5" width="7" height="81" fill="#fff" stroke="#1a1a1a" stroke-width="1"/>
<rect x="633.5" y="769.5" width="7" height="67" fill="#6e6e6e" stroke="#3a3a3a" stroke-width="1"/>
<path d="M627 750.5H632M629.5 750.5V759.5M627 759.5H632" stroke="#111" stroke-width="1" fill="none"/>
<path d="M635 766.5H640M637.5 766.5V772.5M635 772.5H640" stroke="#111" stroke-width="1" fill="none"/>
<text x="633.77" y="852.6" font-size="11" text-anchor="end" transform="rotate(-45 633.77 852.6)" stroke="#050505" stroke-width="0.2">C22:6</text>
<line x1="300.5" y1="691" x2="300.5" y2="837" stroke="#868686" stroke-width="1"/>
<line x1="297.2" y1="836.5" x2="300.5" y2="836.5" stroke="#868686" stroke-width="1"/>
<text x="290.2" y="840.74" font-size="12" text-anchor="end" stroke="#050505" stroke-width="0.2">0</text>
<line x1="297.2" y1="815.5" x2="300.5" y2="815.5" stroke="#868686" stroke-width="1"/>
<text x="290.2" y="820.05" font-size="12" text-anchor="end" stroke="#050505" stroke-width="0.2">2,000</text>
<line x1="297.2" y1="794.5" x2="300.5" y2="794.5" stroke="#868686" stroke-width="1"/>
<text x="290.2" y="799.37" font-size="12" text-anchor="end" stroke="#050505" stroke-width="0.2">4,000</text>
<line x1="297.2" y1="774.5" x2="300.5" y2="774.5" stroke="#868686" stroke-width="1"/>
<text x="290.2" y="778.68" font-size="12" text-anchor="end" stroke="#050505" stroke-width="0.2">6,000</text>
<line x1="297.2" y1="753.5" x2="300.5" y2="753.5" stroke="#868686" stroke-width="1"/>
<text x="290.2" y="758" font-size="12" text-anchor="end" stroke="#050505" stroke-width="0.2">8,000</text>
<line x1="297.2" y1="732.5" x2="300.5" y2="732.5" stroke="#868686" stroke-width="1"/>
<text x="290.2" y="737.31" font-size="12" text-anchor="end" stroke="#050505" stroke-width="0.2">10,000</text>
<line x1="297.2" y1="712.5" x2="300.5" y2="712.5" stroke="#868686" stroke-width="1"/>
<text x="290.2" y="716.63" font-size="12" text-anchor="end" stroke="#050505" stroke-width="0.2">12,000</text>
<line x1="297.2" y1="691.5" x2="300.5" y2="691.5" stroke="#868686" stroke-width="1"/>
<text x="290.2" y="695.94" font-size="12" text-anchor="end" stroke="#050505" stroke-width="0.2">14,000</text>
<line x1="297.2" y1="836.5" x2="646" y2="836.5" stroke="#868686" stroke-width="1"/>
<line x1="300.5" y1="836.5" x2="300.5" y2="839.7" stroke="#868686" stroke-width="1"/>
<line x1="325.5" y1="836.5" x2="325.5" y2="839.7" stroke="#868686" stroke-width="1"/>
<line x1="350.5" y1="836.5" x2="350.5" y2="839.7" stroke="#868686" stroke-width="1"/>
<line x1="374.5" y1="836.5" x2="374.5" y2="839.7" stroke="#868686" stroke-width="1"/>
<line x1="399.5" y1="836.5" x2="399.5" y2="839.7" stroke="#868686" stroke-width="1"/>
<line x1="423.5" y1="836.5" x2="423.5" y2="839.7" stroke="#868686" stroke-width="1"/>
<line x1="448.5" y1="836.5" x2="448.5" y2="839.7" stroke="#868686" stroke-width="1"/>
<line x1="473.5" y1="836.5" x2="473.5" y2="839.7" stroke="#868686" stroke-width="1"/>
<line x1="497.5" y1="836.5" x2="497.5" y2="839.7" stroke="#868686" stroke-width="1"/>
<line x1="522.5" y1="836.5" x2="522.5" y2="839.7" stroke="#868686" stroke-width="1"/>
<line x1="547.5" y1="836.5" x2="547.5" y2="839.7" stroke="#868686" stroke-width="1"/>
<line x1="571.5" y1="836.5" x2="571.5" y2="839.7" stroke="#868686" stroke-width="1"/>
<line x1="596.5" y1="836.5" x2="596.5" y2="839.7" stroke="#868686" stroke-width="1"/>
<line x1="621.5" y1="836.5" x2="621.5" y2="839.7" stroke="#868686" stroke-width="1"/>
<line x1="645.5" y1="836.5" x2="645.5" y2="839.7" stroke="#868686" stroke-width="1"/>
<rect x="305.57" y="835" width="14.9" height="1.7" fill="#2e2e2e"/>
<rect x="453.47" y="835" width="14.9" height="1.7" fill="#2e2e2e"/>
<rect x="478.12" y="835" width="14.9" height="1.7" fill="#2e2e2e"/>
<rect x="576.73" y="835" width="14.9" height="1.7" fill="#2e2e2e"/>
<text x="339.5" y="727.8" font-size="14" font-weight="bold" stroke="#050505" stroke-width="0.06">*</text>
<text x="362.88" y="762.8" font-size="14" font-weight="bold" stroke="#050505" stroke-width="0.06" letter-spacing="0.6">**</text>
<text x="506.48" y="830.4" font-size="14" font-weight="bold" stroke="#050505" stroke-width="0.06" letter-spacing="0.6">**</text>
<text x="535.48" y="761.7" font-size="14" font-weight="bold" stroke="#050505" stroke-width="0.06" letter-spacing="0.6">**</text>
<text x="609.4" y="834" font-size="14" font-weight="bold" stroke="#050505" stroke-width="0.06">*</text>
<text x="634.28" y="761.6" font-size="14" font-weight="bold" stroke="#050505" stroke-width="0.06" letter-spacing="0.6">**</text>
<text x="462.4" y="892.8" font-size="10.9" word-spacing="1.2" text-anchor="middle" stroke="#050505" stroke-width="0.2">Long-chain fatty acids</text>
<rect x="584.5" y="697.5" width="5.5" height="5.5" fill="#fff" stroke="#1a1a1a" stroke-width="1"/>
<rect x="584.5" y="709.5" width="5.5" height="5.5" fill="#6e6e6e" stroke="#333" stroke-width="1"/>
<text x="592.4" y="703.12" font-size="10.9" stroke="#050505" stroke-width="0.2">Saline</text>
<text x="592.4" y="715.82" font-size="10.9" stroke="#050505" stroke-width="0.2">LNA29</text>
</svg>
</body>
</html>
